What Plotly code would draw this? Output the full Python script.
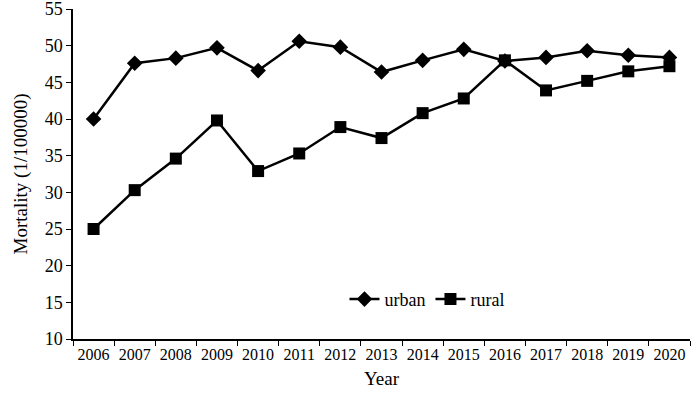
import plotly.graph_objects as go

years = [str(y) for y in range(2006, 2021)]
urban = [40.0, 47.6, 48.3, 49.7, 46.6, 50.6, 49.8, 46.4, 48.0, 49.5, 47.9, 48.4, 49.3, 48.7, 48.4]
rural = [25.0, 30.3, 34.6, 39.8, 32.9, 35.3, 38.9, 37.4, 40.8, 42.8, 48.0, 43.9, 45.2, 46.5, 47.2]
y_ticks = list(range(10, 60, 5))

font_family = "Liberation Serif"

fig = go.Figure()
fig.add_trace(go.Scatter(
    x=years, y=urban, name="urban", mode="lines+markers",
    line=dict(color="black", width=2.5),
    marker=dict(symbol="diamond", size=12, color="black"),
))
fig.add_trace(go.Scatter(
    x=years, y=rural, name="rural", mode="lines+markers",
    line=dict(color="black", width=2.5),
    marker=dict(symbol="square", size=12, color="black"),
))

fig.update_layout(
    width=700, height=396,
    margin=dict(l=73, r=10, t=9, b=57),
    plot_bgcolor="white", paper_bgcolor="white",
    font=dict(family=font_family, size=17, color="black"),
    showlegend=True,
    legend=dict(orientation="h", x=0.44, y=0.12, xanchor="left", yanchor="middle",
                bgcolor="rgba(0,0,0,0)", font=dict(size=18), itemwidth=30,
                tracegroupgap=0),
    xaxis=dict(
        type="category", range=[-0.5, 14.5], tickson="boundaries",
        automargin=False, tickangle=0,
        showline=True, linecolor="black", linewidth=1.5,
        ticks="outside", ticklen=5, tickcolor="black",
        showgrid=False, zeroline=False,
        title=dict(text="Year", standoff=10, font=dict(size=19)),
        tickfont=dict(size=16),
    ),
    yaxis=dict(
        range=[10, 55.001], tickvals=y_ticks,
        automargin=False, ticklabeloverflow="allow",
        showline=True, linecolor="black", linewidth=1.5,
        ticks="outside", ticklen=5, tickcolor="black",
        showgrid=False, zeroline=False,
        title=dict(text="Mortality (1/100000)", standoff=12, font=dict(size=19)),
        tickfont=dict(size=18),
    ),
)

fig.write_html("out.html", config={"displayModeBar": False},
               post_script="document.body.style.margin='0';")
